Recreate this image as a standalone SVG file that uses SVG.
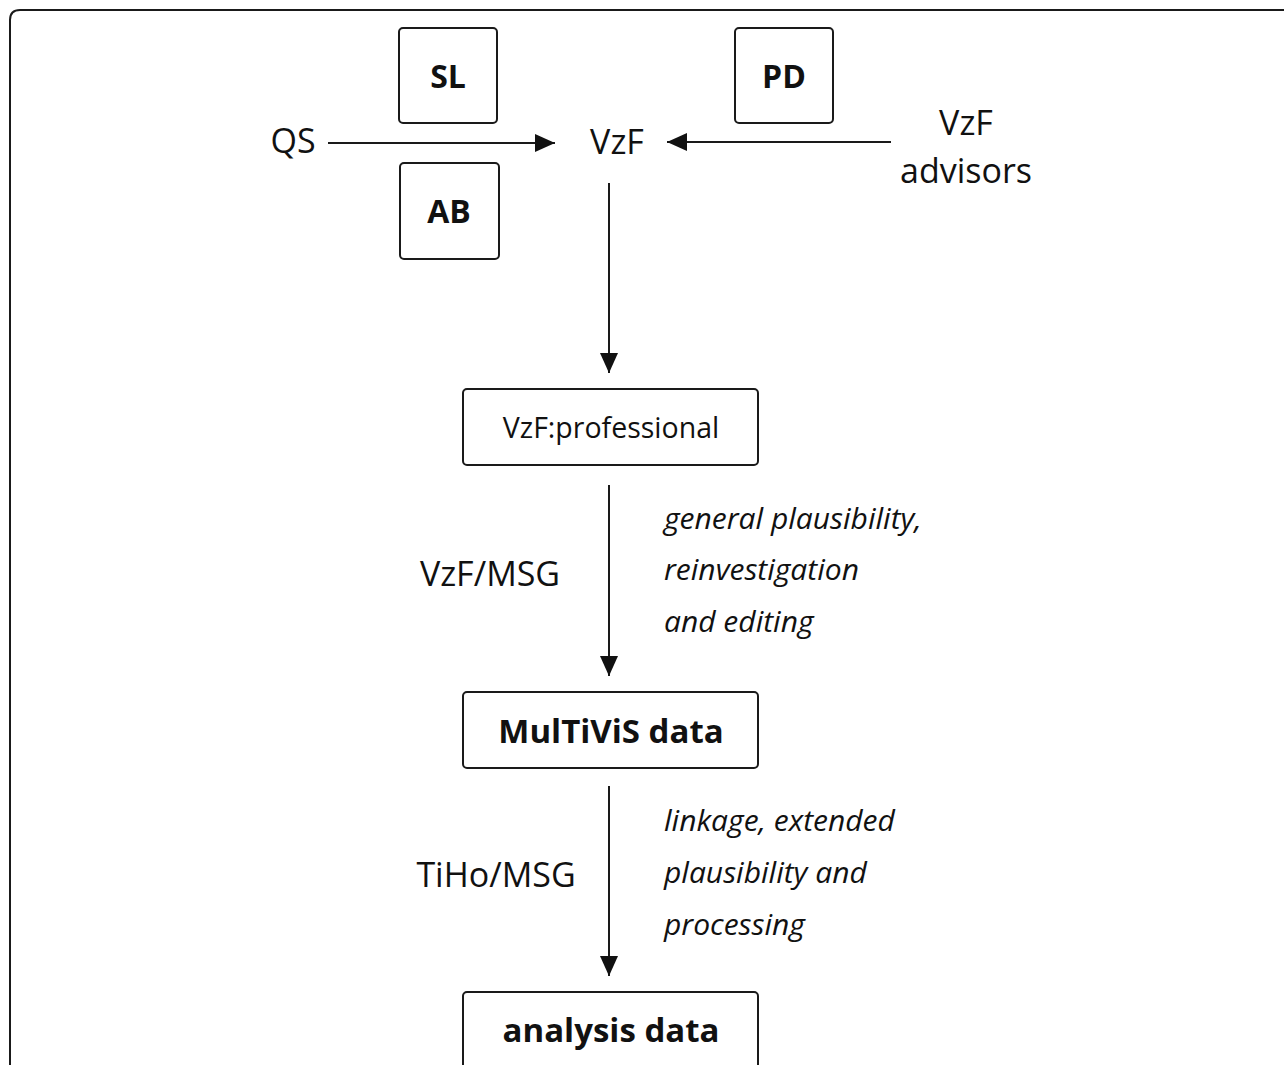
<svg xmlns="http://www.w3.org/2000/svg" width="1284" height="1065" viewBox="0 0 1284 1065">
<style>
text{font-family:"Open Sans","Liberation Sans",sans-serif;fill:#111}
.box{fill:#fff;stroke:#1a1a1a;stroke-width:2}
.lbl{font-size:34px;text-anchor:middle}
.b{font-weight:bold;text-anchor:middle}
.it{font-style:italic;font-size:30px}
.ln{stroke:#1a1a1a;stroke-width:2;fill:none}
</style>
<defs>
<marker id="ah" markerWidth="21" markerHeight="20" refX="20" refY="10" orient="auto" markerUnits="userSpaceOnUse">
<path d="M0,1 L20,10 L0,19 Z" fill="#111"/>
</marker>
</defs>
<rect width="1284" height="1065" fill="#fff"/>
<path d="M10,1070 L10,20 Q10,10 20,10 L1290,10" class="ln"/>
<g id="connectors">
<line x1="328" y1="143" x2="555" y2="143" class="ln" marker-end="url(#ah)"/>
<line x1="891" y1="142" x2="667" y2="142" class="ln" marker-end="url(#ah)"/>
<line x1="609" y1="183" x2="609" y2="373" class="ln" marker-end="url(#ah)"/>
<line x1="609" y1="485" x2="609" y2="676" class="ln" marker-end="url(#ah)"/>
<line x1="609" y1="786" x2="609" y2="976" class="ln" marker-end="url(#ah)"/>
</g>
<g id="SL"><rect x="399" y="28" width="98" height="95" rx="4" class="box"/><text x="448" y="88" class="b" font-size="32">SL</text></g>
<g id="AB"><rect x="400" y="163" width="99" height="96" rx="4" class="box"/><text x="449" y="223" class="b" font-size="32">AB</text></g>
<g id="PD"><rect x="735" y="28" width="98" height="95" rx="4" class="box"/><text x="784" y="88" class="b" font-size="32">PD</text></g>
<g id="QS"><text x="293" y="153" class="lbl">QS</text></g>
<g id="VzF"><text x="617" y="154" class="lbl">VzF</text></g>
<g id="VzFadvisors"><text x="966" y="135" class="lbl">VzF</text><text x="966" y="183" class="lbl">advisors</text></g>
<g id="VzFprofessional"><rect x="463" y="389" width="295" height="76" rx="4" class="box"/><text x="611" y="438" font-size="28.5" text-anchor="middle">VzF:professional</text></g>
<g id="label1"><text x="490" y="586" class="lbl">VzF/MSG</text>
<text x="664" y="529" class="it">general plausibility,</text>
<text x="664" y="580" class="it">reinvestigation</text>
<text x="664" y="632" class="it">and editing</text></g>
<g id="MulTiViS"><rect x="463" y="692" width="295" height="76" rx="4" class="box"/><text x="611" y="743" class="b" font-size="33">MulTiViS data</text></g>
<g id="label2"><text x="496" y="887" class="lbl">TiHo/MSG</text>
<text x="664" y="831" class="it">linkage, extended</text>
<text x="664" y="883" class="it">plausibility and</text>
<text x="664" y="935" class="it">processing</text></g>
<g id="analysis"><rect x="463" y="992" width="295" height="100" rx="4" class="box"/><text x="611" y="1042" class="b" font-size="33">analysis data</text></g>
</svg>
